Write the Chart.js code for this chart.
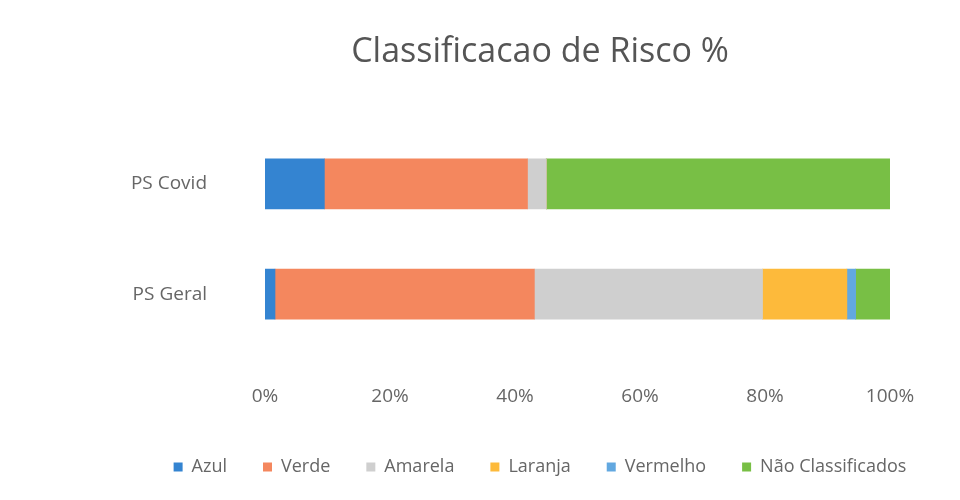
<!DOCTYPE html>
<html>
<head>
<meta charset="utf-8">
<title>Classificacao de Risco %</title>
<script src="https://cdn.jsdelivr.net/npm/chart.js@4/dist/chart.umd.min.js"></script>
<style>
    html, body { margin: 0; padding: 0; background: #ffffff; }
    #wrap { width: 960px; height: 500px; position: relative; }
</style>
</head>
<body>
<div id="wrap"><canvas id="riskChart"></canvas></div>
<script>
// Categories (top to bottom) and share of each risk class, in %
const categories = ['PS Covid', 'PS Geral'];
const azul = [9.5, 1.6];
const verde = [32.5, 41.5];
const amarela = [3, 36.5];
const laranja = [0, 13.5];
const vermelho = [0, 1.4];
const naoClassificados = [55, 5.5];
const xTicks = [0, 20, 40, 60, 80, 100];

const seriesNames = ['Azul', 'Verde', 'Amarela', 'Laranja', 'Vermelho', 'Não Classificados'];
const seriesValues = [azul, verde, amarela, laranja, vermelho, naoClassificados];
const seriesColors = ['#3484d1', '#f4875e', '#cfcfcf', '#fdba3b', '#62a8e0', '#78bf45'];

// Title and legend are centred on the picture, not on the padded box;
// the legend also sits a little higher than the layout puts it
const recentre = {
    id: 'recentre',
    afterLayout(chart) {
        const w = chart.width;
        [chart.titleBlock, chart.legend].forEach(block => {
            if (!block) return;
            block.left = 120;
            block.right = w;
            block.width = w - 120;
        });
        if (chart.legend) {
            chart.legend.top -= 14;
            chart.legend.bottom -= 14;
        }
    }
};

const ctx = document.getElementById('riskChart').getContext('2d');
new Chart(ctx, {
    type: 'bar',
    data: {
        labels: categories,
        datasets: seriesNames.map((name, i) => ({
            label: name,
            data: seriesValues[i],
            backgroundColor: seriesColors[i],
            borderWidth: 0,
            barThickness: 50
        }))
    },
    options: {
        indexAxis: 'y',
        responsive: true,
        maintainAspectRatio: false,
        animation: false,
        layout: { padding: { left: 0, right: 70, top: 14, bottom: 0 } },
        plugins: {
            title: {
                display: true,
                text: 'Classificacao de Risco %',
                color: '#555555',
                font: { family: 'Open Sans', size: 34, weight: 'normal' },
                padding: { top: 18, bottom: 56 }
            },
            legend: {
                position: 'bottom',
                labels: {
                    boxWidth: 9,
                    boxHeight: 9,
                    color: '#666666',
                    padding: 36,
                    font: { family: 'Open Sans', size: 18 }
                }
            },
            tooltip: { enabled: true }
        },
        scales: {
            x: {
                stacked: true,
                min: 0,
                max: 100,
                afterBuildTicks: (scale) => {
                    scale.ticks = xTicks.map(v => ({ value: v }));
                },
                grid: { display: false },
                border: { display: false },
                ticks: {
                    color: '#666666',
                    padding: 28,
                    font: { family: 'Open Sans', size: 19 },
                    callback: (value) => value + '%'
                }
            },
            y: {
                stacked: true,
                afterFit: (scale) => { scale.width = 265; },
                grid: { display: false },
                border: { display: false },
                ticks: {
                    color: '#666666',
                    padding: 50,
                    font: { family: 'Open Sans', size: 19 }
                }
            }
        }
    },
    plugins: [recentre]
});
</script>
</body>
</html>
